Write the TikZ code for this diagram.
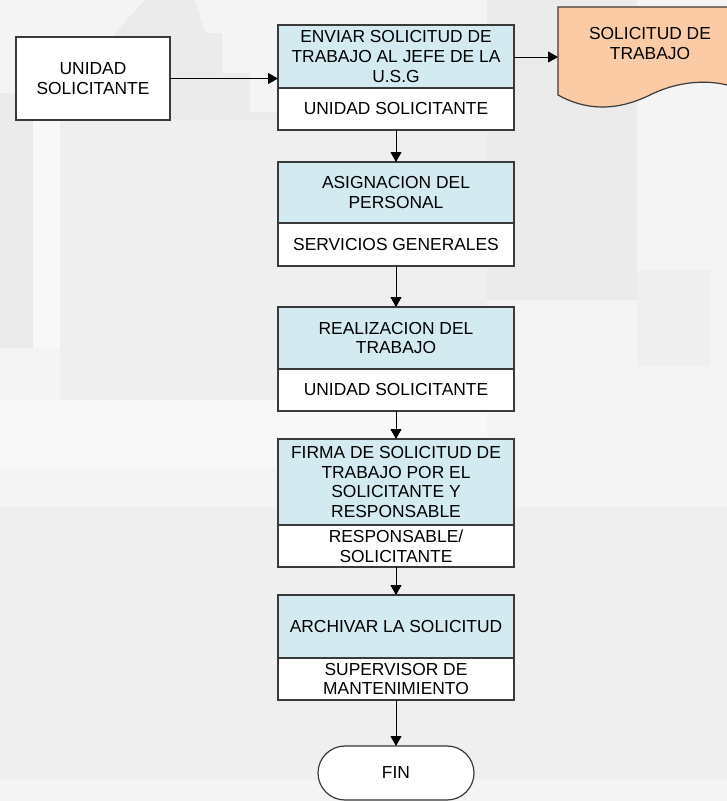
\documentclass[tikz,border=0pt]{standalone}
\usepackage{fontspec}
\setmainfont{Liberation Sans}
\usetikzlibrary{arrows.meta}
\definecolor{hdrblue}{HTML}{D2EAF0}
\definecolor{peach}{HTML}{FACBA5}
\definecolor{bord}{HTML}{3A3A3A}
\definecolor{bgbase}{HTML}{F4F4F4}
\definecolor{bgdark}{HTML}{EBEBEB}
\definecolor{bgmid}{HTML}{EFEFEF}
\definecolor{bglight}{HTML}{F8F8F8}
\begin{document}
\begin{tikzpicture}[x=1pt,y=-1pt,
  every node/.style={font=\fontsize{17.4}{19.8}\selectfont, align=center, inner sep=2pt, outer sep=0pt},
  hdr/.style={draw=bord, line width=1.2pt, fill=hdrblue, minimum width=236pt},
  low/.style={draw=bord, line width=1.2pt, fill=white, minimum width=236pt},
  plain/.style={draw=bord, line width=1.2pt, fill=white},
  arr/.style={line width=1pt, -{Triangle[width=11pt,length=10pt]}}]
% background
\useasboundingbox (0,0) rectangle (727,801);
\fill[bgbase] (0,0) rectangle (727,801);
\fill[bgdark] (115,33) -- (145,0) -- (195,0) -- (205,33) -- (222,33) -- (222,73) -- (250,73) -- (250,112) -- (279,112) -- (279,400) -- (60,400) -- (60,120) -- (115,120) -- cycle;
\fill[bgdark] (0,93) rectangle (33,348);
\fill[bglight] (33,120) rectangle (60,348);
\fill[bgmid] (60,120) rectangle (279,400);
\fill[bgdark] (487,0) rectangle (637,300);
\fill[bgmid] (279,130) rectangle (487,400);
\fill[bgmid] (637,270) rectangle (711,367);
\fill[bglight] (0,400) rectangle (487,467);
\fill[bgmid] (0,507) rectangle (727,780);
\fill[bgbase] (487,467) rectangle (657,507);
% left box
\node[plain, minimum width=154pt, minimum height=83pt] (u) at (93,78.5) {UNIDAD\\SOLICITANTE};
% main column
\node[hdr, minimum height=63pt] (h1) at (396,56.5) {ENVIAR SOLICITUD DE\\TRABAJO AL JEFE DE LA\\U.S.G};
\node[low, minimum height=42pt] (l1) at (396,109) {UNIDAD SOLICITANTE};
\node[hdr, minimum height=61pt] (h2) at (396,192.5) {ASIGNACION DEL\\PERSONAL};
\node[low, minimum height=43pt] (l2) at (396,244.5) {SERVICIOS GENERALES};
\node[hdr, minimum height=62pt] (h3) at (396,338) {REALIZACION DEL\\TRABAJO};
\node[low, minimum height=42pt] (l3) at (396,390) {UNIDAD SOLICITANTE};
\node[hdr, minimum height=86pt] (h4) at (396,482) {FIRMA DE SOLICITUD DE\\TRABAJO POR EL\\SOLICITANTE Y\\RESPONSABLE};
\node[low, minimum height=42pt] (l4) at (396,546) {RESPONSABLE/\\SOLICITANTE};
\node[hdr, minimum height=63pt] (h5) at (396,626.5) {ARCHIVAR LA SOLICITUD};
\node[low, minimum height=42pt] (l5) at (396,679) {SUPERVISOR DE\\MANTENIMIENTO};
\node[plain, rounded corners=27pt, minimum width=156pt, minimum height=54pt] (fin) at (396,773) {FIN};
% document shape
\node[minimum width=184pt, minimum height=88pt, anchor=north west] (doc) at (558,7) {};
\draw[draw=bord, line width=1.2pt, fill=peach] (doc.north west) -- (doc.north east) -- (742,90)
  .. controls (715,78) and (680,80) .. (650,95)
  .. controls (615,112) and (585,110) .. (558,95) -- cycle;
\node (doctxt) at (650,43.5) {SOLICITUD DE\\TRABAJO};
% connectors
\draw[arr] (u.east) -- (u.east -| h1.west);
\draw[arr] (h1.east |- 0,57) -- (doc.west |- 0,57);
\draw[arr] (l1.south) -- (h2.north);
\draw[arr] (l2.south) -- (h3.north);
\draw[arr] (l3.south) -- (h4.north);
\draw[arr] (l4.south) -- (h5.north);
\draw[arr] (l5.south) -- (fin.north);
\end{tikzpicture}
\end{document}
